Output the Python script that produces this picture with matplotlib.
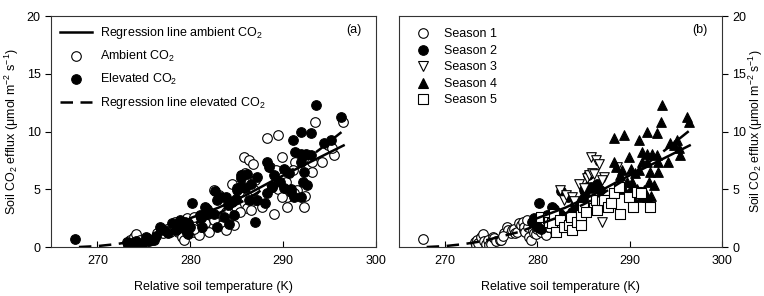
import matplotlib
matplotlib.use("Agg")
import matplotlib.pyplot as plt
from matplotlib.lines import Line2D

plt.rcParams['font.family'] = ['Liberation Sans', 'DejaVu Sans']
plt.rcParams['mathtext.default'] = 'regular'
plt.rcParams['font.size'] = 9

# season 1 (open circles in b)
s1_temp = [267.6, 273.2, 273.3, 273.5, 273.6, 273.9, 274.1, 274.2, 274.4, 274.6, 274.8, 275.0,
           275.2, 275.3, 275.5, 275.9, 276.1, 276.4, 276.7, 276.8, 277.1, 277.2, 277.5, 277.6,
           277.8, 278.0, 278.2, 278.4, 278.5, 278.6, 278.7, 279.0, 279.1, 279.3, 279.5, 279.6,
           279.8, 280.0, 280.4, 280.9, 281.1, 281.3, 276.3, 278.9]
s1_flux = [0.66, 0.46, 0.2, 0.6, 0.35, 0.9, 1.1, 0.55, 0.3, 0.6, 0.15, 0.3,
           0.85, 0.75, 0.55, 0.6, 0.65, 1.2, 1.75, 1.5, 1.2, 1.45, 1.6, 1.2,
           1.3, 2.05, 1.9, 2.2, 1.45, 1.75, 1.3, 1.75, 0.9, 0.6, 1.45, 1.2,
           1.1, 1.6, 1.3, 1.0, 1.75, 1.75, 0.95, 2.3]
s1_co2 = ['e', 'e', 'e', 'a', 'e', 'a', 'a', 'e', 'e', 'a', 'e', 'a',
          'e', 'a', 'e', 'a', 'e', 'a', 'e', 'a', 'a', 'e', 'a', 'e',
          'a', 'e', 'a', 'a', 'e', 'a', 'a', 'e', 'a', 'a', 'e', 'a',
          'e', 'a', 'a', 'a', 'a', 'e', 'e', 'e']

# season 2 (filled circles)
s2_temp = [279.4, 279.6, 279.8, 280.0, 280.2, 280.4, 281.6, 281.8, 282.0, 282.5, 282.6, 283.3,
           283.8, 284.1, 284.5, 284.7, 284.9, 285.0, 285.2, 285.4, 285.5, 285.8, 285.9, 286.5,
           286.8, 281.0, 283.0, 284.2]
s2_flux = [2.2, 2.5, 2.1, 1.75, 3.85, 1.6, 3.5, 3.3, 3.05, 2.9, 4.85, 4.3,
           3.05, 3.6, 3.9, 3.6, 4.2, 4.9, 4.8, 5.2, 6.2, 5.2, 5.1, 5.5,
           4.9, 2.8, 2.6, 2.0]
s2_co2 = ['e', 'a', 'e', 'e', 'e', 'a', 'e', 'e', 'a', 'e', 'e', 'e',
          'a', 'e', 'e', 'a', 'e', 'e', 'a', 'e', 'e', 'a', 'e', 'e',
          'a', 'e', 'a', 'e']

# season 3 (open down triangles)
s3_temp = [282.5, 282.9, 283.1, 283.8, 284.5, 285.0, 285.4, 285.6, 285.9, 285.8, 286.3, 286.7,
           287.0, 287.2, 287.0, 288.6, 284.0, 286.1]
s3_flux = [4.9, 4.1, 4.5, 4.35, 5.5, 5.1, 6.0, 6.2, 6.4, 7.8, 7.5, 7.2,
           2.2, 6.1, 5.8, 6.95, 4.0, 6.3]
s3_co2 = ['a', 'e', 'a', 'e', 'a', 'e', 'e', 'e', 'a', 'a', 'a', 'a',
          'e', 'e', 'a', 'a', 'a', 'e']

# season 4 (filled up triangles)
s4_temp = [288.3, 289.4, 291.0, 291.9, 293.0, 293.5, 293.4, 296.2, 296.4, 288.3, 288.5, 289.2,
           289.9, 290.1, 290.6, 291.3, 291.9, 292.4, 293.0, 293.1, 291.3, 291.9, 291.0, 292.2,
           294.4, 294.8, 295.1, 295.5, 295.3, 294.2, 293.1, 292.6, 292.1, 289.7, 290.1, 290.4,
           291.2, 291.5, 291.9, 288.8, 289.4, 290.8, 292.3, 289.0, 290.3]
s4_flux = [9.4, 9.7, 9.25, 10.0, 9.85, 12.3, 10.85, 11.3, 10.85, 7.4, 6.95, 6.7,
           7.8, 6.8, 6.4, 8.25, 8.1, 8.1, 8.0, 7.4, 7.4, 7.4, 6.7, 6.5,
           9.0, 8.8, 9.25, 8.0, 8.55, 7.4, 6.5, 5.4, 5.65, 5.65, 5.1, 4.35,
           4.35, 4.9, 4.35, 5.2, 5.0, 5.0, 4.4, 6.2, 5.6]
s4_co2 = ['a', 'a', 'e', 'e', 'e', 'e', 'a', 'e', 'a', 'e', 'e', 'a',
          'a', 'e', 'e', 'e', 'e', 'e', 'e', 'a', 'a', 'e', 'a', 'e',
          'e', 'a', 'e', 'a', 'a', 'a', 'a', 'e', 'e', 'e', 'e', 'a',
          'e', 'a', 'e', 'e', 'a', 'e', 'a', 'e', 'a']

# season 5 (open squares)
s5_temp = [280.4, 281.1, 281.3, 281.6, 281.8, 282.0, 282.5, 282.9, 283.4, 283.6, 283.8, 284.3,
           284.7, 284.7, 284.9, 286.1, 286.3, 286.5, 287.0, 287.2, 287.7, 288.3, 288.8, 289.0,
           289.9, 290.4, 290.8, 291.2, 292.2, 285.3, 288.0]
s5_flux = [2.6, 2.5, 2.2, 2.05, 2.9, 1.3, 2.3, 1.75, 1.9, 2.6, 1.5, 2.2,
           1.9, 2.8, 3.5, 3.35, 4.1, 3.2, 4.1, 4.1, 3.5, 4.65, 5.2, 2.9,
           4.35, 3.5, 4.8, 4.65, 3.5, 3.0, 3.8]
s5_co2 = ['a', 'e', 'a', 'a', 'e', 'a', 'a', 'e', 'a', 'e', 'a', 'a',
          'a', 'e', 'a', 'a', 'e', 'a', 'a', 'e', 'a', 'e', 'a', 'a',
          'a', 'a', 'e', 'a', 'a', 'a', 'e']

# regression lines
reg_elev_temp = [268, 270, 272, 274, 276, 278, 280, 282, 284, 286, 288, 290, 292, 294, 296.5]
reg_elev_flux = [0.0, 0.08, 0.25, 0.5, 0.9, 1.3, 1.9, 2.5, 3.3, 4.1, 5.1, 6.1, 7.3, 8.5, 10.1]
reg_amb_temp = [280, 283, 286, 289, 292, 294, 296.5]
reg_amb_flux = [2.5, 3.4, 4.5, 5.8, 7.0, 7.8, 8.8]

seasons = [
    (s1_temp, s1_flux, s1_co2, 'o', 'white', 'Season 1'),
    (s2_temp, s2_flux, s2_co2, 'o', 'black', 'Season 2'),
    (s3_temp, s3_flux, s3_co2, 'v', 'white', 'Season 3'),
    (s4_temp, s4_flux, s4_co2, '^', 'black', 'Season 4'),
    (s5_temp, s5_flux, s5_co2, 's', 'white', 'Season 5'),
]

all_temp, all_flux, all_co2 = [], [], []
for t, f, c, m, fc, lab in seasons:
    all_temp += t
    all_flux += f
    all_co2 += c

amb_t = [t for t, c in zip(all_temp, all_co2) if c == 'a']
amb_f = [f for f, c in zip(all_flux, all_co2) if c == 'a']
ele_t = [t for t, c in zip(all_temp, all_co2) if c == 'e']
ele_f = [f for f, c in zip(all_flux, all_co2) if c == 'e']

fig = plt.figure(figsize=(7.64, 2.96), dpi=100)
ax1 = fig.add_axes([0.0668, 0.1655, 0.4255, 0.780])
ax2 = fig.add_axes([0.5222, 0.1655, 0.4228, 0.780])

ms = 48
ax1.scatter(amb_t, amb_f, s=ms, marker='o', facecolor='white', edgecolor='black', linewidth=0.8, zorder=2)
ax1.scatter(ele_t, ele_f, s=ms, marker='o', facecolor='black', edgecolor='black', linewidth=0.8, zorder=2)

for t, f, c, m, fc, lab in seasons:
    ax2.scatter(t, f, s=ms, marker=m, facecolor=fc, edgecolor='black', linewidth=0.8, zorder=2)

for ax in (ax1, ax2):
    ax.plot(reg_amb_temp, reg_amb_flux, color='black', lw=1.8, zorder=3)
    ax.plot(reg_elev_temp, reg_elev_flux, color='black', lw=1.8, ls=(0, (5, 3)), zorder=3)
    ax.set_xlim(265, 300)
    ax.set_ylim(0, 20)
    ax.set_xticks([270, 280, 290, 300])
    ax.set_yticks([0, 5, 10, 15, 20])
    ax.tick_params(axis='x', direction='in', length=4, pad=6, labelsize=9)
    ax.tick_params(axis='y', direction='out', length=4, labelsize=9)
    ax.set_xlabel('Relative soil temperature (K)', fontsize=9, labelpad=10)
    for sp in ax.spines.values():
        sp.set_linewidth(0.8)
        sp.set_color('#333333')

ylab = 'Soil CO$_2$ efflux (\u03bcmol m$^{-2}$ s$^{-1}$)'
ax1.set_ylabel(ylab, fontsize=9, labelpad=4)
ax2.yaxis.tick_right()
ax2.yaxis.set_label_position('right')
ax2.set_ylabel(ylab, fontsize=8.8, labelpad=0)

ax1.text(0.955, 0.94, '(a)', transform=ax1.transAxes, ha='right', va='center', fontsize=9)
ax2.text(0.955, 0.94, '(b)', transform=ax2.transAxes, ha='right', va='center', fontsize=9)

h1 = [
    Line2D([], [], color='black', lw=1.8),
    Line2D([], [], marker='o', ls='none', mfc='white', mec='black', ms=6.9, mew=0.8),
    Line2D([], [], marker='o', ls='none', mfc='black', mec='black', ms=6.9, mew=0.8),
    Line2D([], [], color='black', lw=1.8, ls=(0, (5, 3))),
]
l1 = ['Regression line ambient CO$_2$', 'Ambient CO$_2$', 'Elevated CO$_2$',
      'Regression line elevated CO$_2$']
ax1.legend(h1, l1, loc='upper left', frameon=False, fontsize=9, handlelength=2.6,
           handletextpad=0.6, labelspacing=0.65, borderaxespad=0.3, bbox_to_anchor=(0.0, 1.0))

h2 = [Line2D([], [], marker=m, ls='none', mfc=fc, mec='black', ms=6.9, mew=0.8)
      for t, f, c, m, fc, lab in seasons]
l2 = [lab for t, f, c, m, fc, lab in seasons]
ax2.legend(h2, l2, loc='upper left', frameon=False, fontsize=9, handlelength=1.5,
           handletextpad=0.9, labelspacing=0.36, borderaxespad=0.4, bbox_to_anchor=(0.015, 0.99))

fig.savefig('out.png', dpi=100)
